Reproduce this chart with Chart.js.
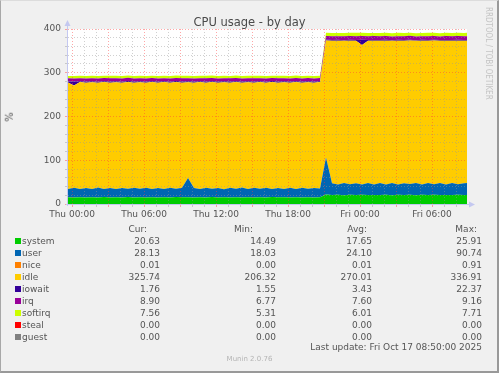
<!DOCTYPE html>
<html>
<head>
<meta charset="utf-8">
<style>
  html, body { margin: 0; padding: 0; background: #f0f0f0; }
  #wrap { position: relative; width: 499px; height: 373px; overflow: hidden;
          font-family: 'DejaVu Sans', sans-serif; color: #555; }
  #cpu { position: absolute; left: 0; top: 0; }
  .t { position: absolute; white-space: pre; font-size: 9px; line-height: 12px; }
  .r { text-align: right; }
  .sw { position: absolute; width: 6px; height: 6px; }
  #frame { position: absolute; left: 0; top: 0; width: 499px; height: 373px; box-sizing: border-box;
           border-left: 1px solid #a8a8a8; border-top: 1px solid #dcdcdc;
           border-right: 2px solid #999; border-bottom: 2px solid #999; pointer-events: none; }
</style>
</head>
<body>
<div id="wrap">
  <canvas id="cpu" width="499" height="373"></canvas>
  <div class="t" style="left:0;top:15px;width:499px;text-align:center;font-size:11.5px;line-height:14px;color:#4a4a4a">CPU usage - by day</div>
  <div class="t" style="left:5px;top:111px;font-size:10px;transform:rotate(-90deg)">%</div>
  <div class="t" style="left:483px;top:7px;writing-mode:vertical-rl;font-family:'DejaVu Sans Condensed','DejaVu Sans',sans-serif;font-size:8px;line-height:10px;color:#c4c4c4">RRDTOOL / TOBI OETIKER</div>
  <div id="legend"></div>
  <div class="t" style="left:0;top:341px;width:482px;text-align:right">Last update: Fri Oct 17 08:50:00 2025</div>
  <div class="t" style="left:0;top:354px;width:499px;text-align:center;font-size:7px;line-height:10px;color:#b4b4b4">Munin 2.0.76</div>
  <div id="frame"></div>
</div>

<script src="https://cdn.jsdelivr.net/npm/chart.js"></script>
<script>
// samples every 30 min, first one at Wed 23:40 (hours relative to Thu 00:00)
var startHour = -1 / 3;
var stepHour = 0.5;
var endHour = 32 + 55 / 60;

var seriesNames = ['system', 'user', 'nice', 'idle', 'iowait', 'irq', 'softirq', 'steal', 'guest'];
var seriesColors = ['#00CC00', '#0066B3', '#FF8000', '#FFCC00', '#330099', '#990099', '#CCFF00', '#FF0000', '#808080'];

var system = [15.2,14.8,15.6,14.9,15.3,14.7,15.8,15.0,15.4,14.6,15.9,15.1,15.3,14.8,15.7,15.0,15.5,14.7,16.0,15.2,
  15.6,14.9,15.4,15.0,15.8,14.8,15.3,15.1,15.7,14.9,15.5,15.0,15.6,14.7,15.9,15.2,15.4,14.8,15.7,15.0,15.5,14.9,15.6,
  21.5,20.4,20.9,20.2,21.1,20.5,21.3,20.3,20.8,20.6,21.2,20.1,20.9,20.4,21.4,20.2,21.0,20.5,21.2,20.3,20.8,20.6,21.1,20.4,20.6];
var user = [19.0,22.5,18.6,21.8,19.2,22.9,18.4,21.6,19.1,22.2,18.7,21.9,19.3,22.6,18.5,21.7,19.0,22.3,18.8,22.0,
  44.0,21.5,18.9,22.4,19.2,21.8,18.6,22.1,19.0,22.7,18.7,21.9,19.3,22.2,18.5,21.6,19.1,22.5,18.8,22.0,19.2,21.7,19.6,
  85.0,27.0,23.6,27.8,24.0,27.2,23.4,27.6,23.9,27.4,23.5,28.0,23.8,27.1,24.1,27.7,23.6,27.3,23.9,27.9,23.5,27.5,24.0,27.2,28.1];
var nice = [0,0,0,0,0,0,0,0,0,0,0,0,0,0,0,0,0,0,0,0,0,0,0,0,0,0,0,0,0,0,0,0,0,0,0,0,0,0,0,0,0,0,0,
  0,0,0,0,0,0,0,0,0,0,0,0,0,0,0,0,0,0,0,0,0,0,0,0,0];
var idle = [243.8,233.5,244.4,240.3,244.0,239.5,244.5,240.4,244.0,240.3,244.1,240.3,243.9,239.7,244.5,240.2,244.1,240.1,244.1,240.1,
  218.6,240.8,244.3,239.8,243.8,240.6,244.2,239.9,244.1,239.8,244.2,240.3,243.9,240.1,244.5,240.5,243.7,239.9,244.3,240.0,243.7,240.6,243.4,
  267.5,325.8,328.6,324.9,328.1,325.6,318.9,325.0,328.4,325.3,328.5,324.8,328.6,325.6,328.1,325.1,328.5,325.3,328.5,324.8,328.8,325.3,328.2,325.5,324.4];
var iowait = [2.2,9.0,2.0,2.9,1.8,2.6,2.1,3.0,1.9,2.5,2.2,2.8,1.8,2.7,2.0,3.1,1.9,2.6,2.1,2.9,
  2.4,2.7,1.8,2.8,2.0,2.6,2.2,3.0,1.9,2.5,2.1,2.8,1.8,2.7,2.0,2.9,2.2,2.6,1.9,3.0,2.1,2.7,2.0,
  1.8,1.5,2.1,1.6,2.2,1.5,12.0,1.7,2.0,1.6,2.3,1.5,1.9,1.6,2.1,1.5,2.2,1.7,1.9,1.6,2.0,1.5,2.1,1.6,1.8];
var irq = [7.1,7.3,7.0,7.2,7.4,7.1,7.0,7.3,7.2,7.1,7.4,7.0,7.2,7.3,7.1,7.0,7.2,7.4,7.1,7.3,
  7.0,7.2,7.1,7.3,7.4,7.0,7.2,7.1,7.3,7.0,7.2,7.4,7.1,7.3,7.0,7.2,7.1,7.3,7.2,7.0,7.4,7.1,7.2,
  8.4,8.6,8.3,8.7,8.5,8.8,8.4,8.6,8.9,8.3,8.5,8.7,8.4,8.6,8.8,8.5,8.3,8.7,8.6,8.4,8.9,8.5,8.6,8.7,8.9];
var softirq = [5.5,5.3,5.6,5.4,5.7,5.5,5.3,5.6,5.4,5.8,5.5,5.3,5.6,5.4,5.5,5.7,5.3,5.6,5.4,5.5,
  5.6,5.3,5.5,5.7,5.4,5.6,5.5,5.3,5.8,5.4,5.6,5.5,5.3,5.7,5.4,5.6,5.5,5.4,5.6,5.3,5.5,5.7,5.6,
  7.2,7.4,7.1,7.5,7.3,7.6,7.2,7.4,7.0,7.5,7.3,7.1,7.6,7.4,7.2,7.5,7.3,7.7,7.1,7.4,7.3,7.6,7.2,7.5,7.6];
var steal = [0,0,0,0,0,0,0,0,0,0,0,0,0,0,0,0,0,0,0,0,0,0,0,0,0,0,0,0,0,0,0,0,0,0,0,0,0,0,0,0,0,0,0,
  0,0,0,0,0,0,0,0,0,0,0,0,0,0,0,0,0,0,0,0,0,0,0,0,0];
var guest = [0,0,0,0,0,0,0,0,0,0,0,0,0,0,0,0,0,0,0,0,0,0,0,0,0,0,0,0,0,0,0,0,0,0,0,0,0,0,0,0,0,0,0,
  0,0,0,0,0,0,0,0,0,0,0,0,0,0,0,0,0,0,0,0,0,0,0,0,0];

var curVals = ['20.63', '28.13', '0.01', '325.74', '1.76', '8.90', '7.56', '0.00', '0.00'];
var minVals = ['14.49', '18.03', '0.00', '206.32', '1.55', '6.77', '5.31', '0.00', '0.00'];
var avgVals = ['17.65', '24.10', '0.01', '270.01', '3.43', '7.60', '6.01', '0.00', '0.00'];
var maxVals = ['25.91', '90.74', '0.91', '336.91', '22.37', '9.16', '7.71', '0.00', '0.00'];

var xTickHours = [0, 6, 12, 18, 24, 30];
var xTickLabels = ['Thu 00:00', 'Thu 06:00', 'Thu 12:00', 'Thu 18:00', 'Fri 00:00', 'Fri 06:00'];
var yTickLabels = [0, 100, 200, 300, 400];

var allSeries = [system, user, nice, idle, iowait, irq, softirq, steal, guest];

function toPoints(arr) {
  return arr.map(function (v, i) { return { x: startHour + i * stepHour, y: v }; });
}

var datasets = allSeries.map(function (arr, k) {
  return {
    label: seriesNames[k],
    data: toPoints(arr),
    backgroundColor: seriesColors[k],
    borderWidth: 0,
    pointRadius: 0,
    tension: 0,
    fill: k === 0 ? 'origin' : '-1'
  };
});

var majorGrid = 'rgba(255, 60, 60, 0.45)';
var minorGrid = 'rgba(150, 150, 150, 0.45)';
var axisColor = '#c4c8f0';

// white plot background + rrdtool style axis arrows
var rrdFrame = {
  id: 'rrdFrame',
  beforeDraw: function (chart) {
    var a = chart.chartArea, ctx = chart.ctx;
    ctx.save();
    ctx.fillStyle = '#ffffff';
    ctx.fillRect(a.left, a.top, a.right - a.left, a.bottom - a.top);
    ctx.restore();
  },
  afterDraw: function (chart) {
    var a = chart.chartArea, ctx = chart.ctx;
    ctx.save();
    ctx.strokeStyle = axisColor;
    ctx.fillStyle = axisColor;
    ctx.lineWidth = 1;
    ctx.beginPath();
    ctx.moveTo(a.left - 0.5, a.bottom + 2);
    ctx.lineTo(a.left - 0.5, a.top - 5);
    ctx.moveTo(a.left - 2, a.bottom + 0.5);
    ctx.lineTo(a.right + 4, a.bottom + 0.5);
    ctx.stroke();
    ctx.beginPath();
    ctx.moveTo(a.left - 0.5, a.top - 9);
    ctx.lineTo(a.left - 3.5, a.top - 3);
    ctx.lineTo(a.left + 2.5, a.top - 3);
    ctx.closePath();
    ctx.fill();
    ctx.beginPath();
    ctx.moveTo(a.right + 8, a.bottom + 0.5);
    ctx.lineTo(a.right + 2, a.bottom - 2.5);
    ctx.lineTo(a.right + 2, a.bottom + 3.5);
    ctx.closePath();
    ctx.fill();
    ctx.restore();
  }
};

Chart.defaults.font.family = "'DejaVu Sans', sans-serif";
Chart.defaults.font.size = 9;
Chart.defaults.color = '#555';

var ctx = document.getElementById('cpu').getContext('2d');
var cpuChart = new Chart(ctx, {
  type: 'line',
  data: { datasets: datasets },
  plugins: [rrdFrame],
  options: {
    responsive: false,
    animation: false,
    events: [],
    layout: { padding: { left: 0, top: 29, right: 32, bottom: 0 } },
    plugins: { legend: { display: false }, tooltip: { enabled: false }, title: { display: false } },
    scales: {
      x: {
        type: 'linear',
        min: startHour,
        max: endHour,
        afterFit: function (s) { s.height = 169; },
        // one grid line per hour
        afterBuildTicks: function (s) {
          var ticks = [];
          for (var h = Math.ceil(startHour); h <= Math.floor(endHour); h++) ticks.push({ value: h });
          s.ticks = ticks;
        },
        ticks: {
          autoSkip: false, maxRotation: 0, padding: 2,
          callback: function (v) {
            var i = xTickHours.indexOf(v);
            return i >= 0 ? xTickLabels[i] : '';
          }
        },
        grid: {
          z: 1, tickLength: 3, lineWidth: 1,
          color: function (c) { return c.tick.value % 3 === 0 ? majorGrid : minorGrid; },
          tickColor: function (c) { return c.tick.value % 3 === 0 ? majorGrid : minorGrid; }
        },
        border: { display: false, dash: [1, 2] }
      },
      y: {
        stacked: true,
        min: 0,
        max: 400,
        afterFit: function (s) { s.width = 68; },
        ticks: {
          stepSize: 20, padding: 4, autoSkip: false,
          callback: function (v) { return yTickLabels.indexOf(v) >= 0 ? String(v) : ''; }
        },
        grid: {
          z: 1, tickLength: 3, lineWidth: 1,
          color: function (c) { return c.tick.value % 100 === 0 ? majorGrid : minorGrid; },
          tickColor: function (c) { return c.tick.value % 100 === 0 ? majorGrid : minorGrid; }
        },
        border: { display: false, dash: [1, 2] }
      }
    }
  }
});

// legend table under the graph
var legend = document.getElementById('legend');
function addText(txt, left, top, width, cls) {
  var d = document.createElement('div');
  d.className = 't' + (cls ? ' ' + cls : '');
  d.textContent = txt;
  d.style.left = left + 'px';
  d.style.top = top + 'px';
  if (width) d.style.width = width + 'px';
  legend.appendChild(d);
}
var colRight = [160, 276, 372, 482];
['Cur:', 'Min:', 'Avg:', 'Max:'].forEach(function (h, j) {
  addText(h, 0, 223, colRight[j] - [13, 23, 5, 5][j], 'r');
});
seriesNames.forEach(function (name, k) {
  var top = 235 + 12 * k;
  var sw = document.createElement('div');
  sw.className = 'sw';
  sw.style.left = '15px';
  sw.style.top = (top + 3) + 'px';
  sw.style.background = seriesColors[k];
  legend.appendChild(sw);
  addText(name, 22, top);
  [curVals, minVals, avgVals, maxVals].forEach(function (col, j) {
    addText(col[k], 0, top, colRight[j], 'r');
  });
});
</script>
</body>
</html>
